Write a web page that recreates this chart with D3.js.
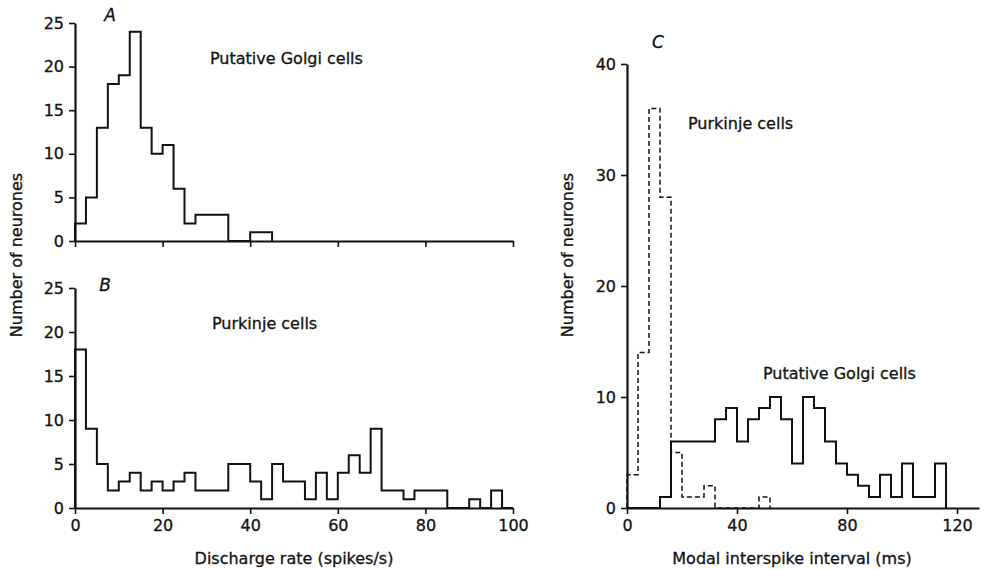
<!DOCTYPE html>
<html>
<head>
<meta charset="utf-8">
<script src="https://cdnjs.cloudflare.com/ajax/libs/d3/7.8.5/d3.min.js"></script>
<style>
body { margin: 0; background: #fff; }
svg text { font-family: "DejaVu Sans", sans-serif; fill: #111; stroke: #111; stroke-width: 0.3px; }
</style>
</head>
<body>
<div id="chart"></div>
<script>
// histogram counts
// discharge rate, 2.5 spikes/s bins starting at 0
const rateBinWidth = 2.5;
const golgiRate = [2, 5, 13, 18, 19, 24, 13, 10, 11, 6, 2, 3, 3, 3, 0, 0, 1, 1];
const purkinjeRate = [18, 9, 5, 2, 3, 4, 2, 3, 2, 3, 4, 2, 2, 2, 5, 5, 3, 1, 5, 3,
    3, 1, 4, 1, 4, 6, 4, 9, 2, 2, 1, 2, 2, 2, 0, 0, 1, 0, 2, 0];

// modal interspike interval, 4 ms bins starting at 0
const isiBinWidth = 4;
const golgiISI = [0, 0, 0, 1, 6, 6, 6, 6, 8, 9, 6, 8, 9, 10, 8, 4, 10, 9, 6, 4,
    3, 2, 1, 3, 1, 4, 1, 1, 4];
const purkinjeISI = [3, 14, 36, 28, 5, 1, 1, 2, 0, 0, 0, 0, 1];

const rateTicks = [0, 20, 40, 60, 80, 100];
const countTicksAB = [0, 5, 10, 15, 20, 25];
const isiTicks = [0, 40, 80, 120];
const countTicksC = [0, 10, 20, 30, 40];

const width = 987;
const height = 570;
const ink = "#111";

let svg = d3.select("#chart")
    .append("svg")
    .attr("width", width)
    .attr("height", height);

svg.append("rect")
    .attr("width", width)
    .attr("height", height)
    .attr("fill", "#fff");

// scales
let xRate = d3.scaleLinear().domain([0, 100]).range([75, 513]);
let yA = d3.scaleLinear().domain([0, 25]).range([241, 23]);
let yB = d3.scaleLinear().domain([0, 25]).range([508, 288]);
let xISI = d3.scaleLinear().domain([0, 128]).range([627, 627 + 128 * 2.75]);
let yC = d3.scaleLinear().domain([0, 40]).range([508, 64]);

// outline of a histogram as one step line
function histPath(counts, binW, x, y) {
    let pts = [[0, 0]];
    counts.forEach((c, i) => pts.push([i * binW, c]));
    pts.push([counts.length * binW, 0]);
    return d3.line()
        .x(d => x(d[0]))
        .y(d => y(d[1]))
        .curve(d3.curveStepAfter)(pts);
}

function styleAxis(g) {
    g.attr("font-family", "DejaVu Sans, sans-serif")
        .attr("font-size", 16);
    g.select(".domain").attr("stroke", ink).attr("stroke-width", 2.2);
    g.selectAll(".tick line").attr("stroke", ink).attr("stroke-width", 1.6);
    g.selectAll(".tick text").attr("fill", ink);
}

function drawAxes(x, y, xTicks, yTicks, xLabels, xpos, ypos) {
    svg.append("g")
        .attr("transform", "translate(0," + ypos + ")")
        .call(d3.axisBottom(x).tickValues(xTicks).tickSize(6).tickSizeOuter(0)
            .tickPadding(6).tickFormat(xLabels ? d3.format("d") : ""))
        .call(styleAxis);

    svg.append("g")
        .attr("transform", "translate(" + xpos + ",0)")
        .call(d3.axisLeft(y).tickValues(yTicks).tickSize(6).tickSizeOuter(0)
            .tickPadding(5))
        .call(styleAxis);
}

// panel A
drawAxes(xRate, yA, rateTicks, countTicksAB, false, xRate(0), yA(0));
svg.append("path")
    .attr("d", histPath(golgiRate, rateBinWidth, xRate, yA))
    .attr("fill", "none")
    .attr("stroke", ink)
    .attr("stroke-width", 2);

// panel B
drawAxes(xRate, yB, rateTicks, countTicksAB, true, xRate(0), yB(0));
svg.append("path")
    .attr("d", histPath(purkinjeRate, rateBinWidth, xRate, yB))
    .attr("fill", "none")
    .attr("stroke", ink)
    .attr("stroke-width", 2);

// panel C
drawAxes(xISI, yC, isiTicks, countTicksC, true, xISI(0), yC(0));
svg.append("path")
    .attr("d", histPath(golgiISI, isiBinWidth, xISI, yC))
    .attr("fill", "none")
    .attr("stroke", ink)
    .attr("stroke-width", 2);
svg.append("path")
    .attr("d", histPath(purkinjeISI, isiBinWidth, xISI, yC))
    .attr("fill", "none")
    .attr("stroke", ink)
    .attr("stroke-width", 1.5)
    .attr("stroke-dasharray", "5,3");

// panel letters
[["A", 110, 21], ["B", 105, 291], ["C", 658, 48]].forEach(d => {
    svg.append("text")
        .attr("x", d[1])
        .attr("y", d[2])
        .attr("text-anchor", "middle")
        .attr("font-style", "italic")
        .attr("font-size", 17)
        .text(d[0]);
});

// in-plot labels
[["Putative Golgi cells", 210, 64], ["Purkinje cells", 212, 329],
 ["Purkinje cells", 688, 129], ["Putative Golgi cells", 763, 379]].forEach(d => {
    svg.append("text")
        .attr("x", d[1])
        .attr("y", d[2])
        .attr("font-size", 16)
        .text(d[0]);
});

// axis titles
svg.append("text")
    .attr("x", (xRate(0) + xRate(100)) / 2)
    .attr("y", 564)
    .attr("text-anchor", "middle")
    .attr("font-size", 16)
    .text("Discharge rate (spikes/s)");

svg.append("text")
    .attr("x", (xISI(0) + xISI(120)) / 2)
    .attr("y", 564)
    .attr("text-anchor", "middle")
    .attr("font-size", 16)
    .text("Modal interspike interval (ms)");

svg.append("text")
    .attr("text-anchor", "middle")
    .attr("font-size", 16)
    .attr("transform", "translate(" + 22 + ", " + 255 + ") rotate(270)")
    .text("Number of neurones");

svg.append("text")
    .attr("text-anchor", "middle")
    .attr("font-size", 16)
    .attr("transform", "translate(" + 573 + ", " + 255 + ") rotate(270)")
    .text("Number of neurones");
</script>
</body>
</html>
